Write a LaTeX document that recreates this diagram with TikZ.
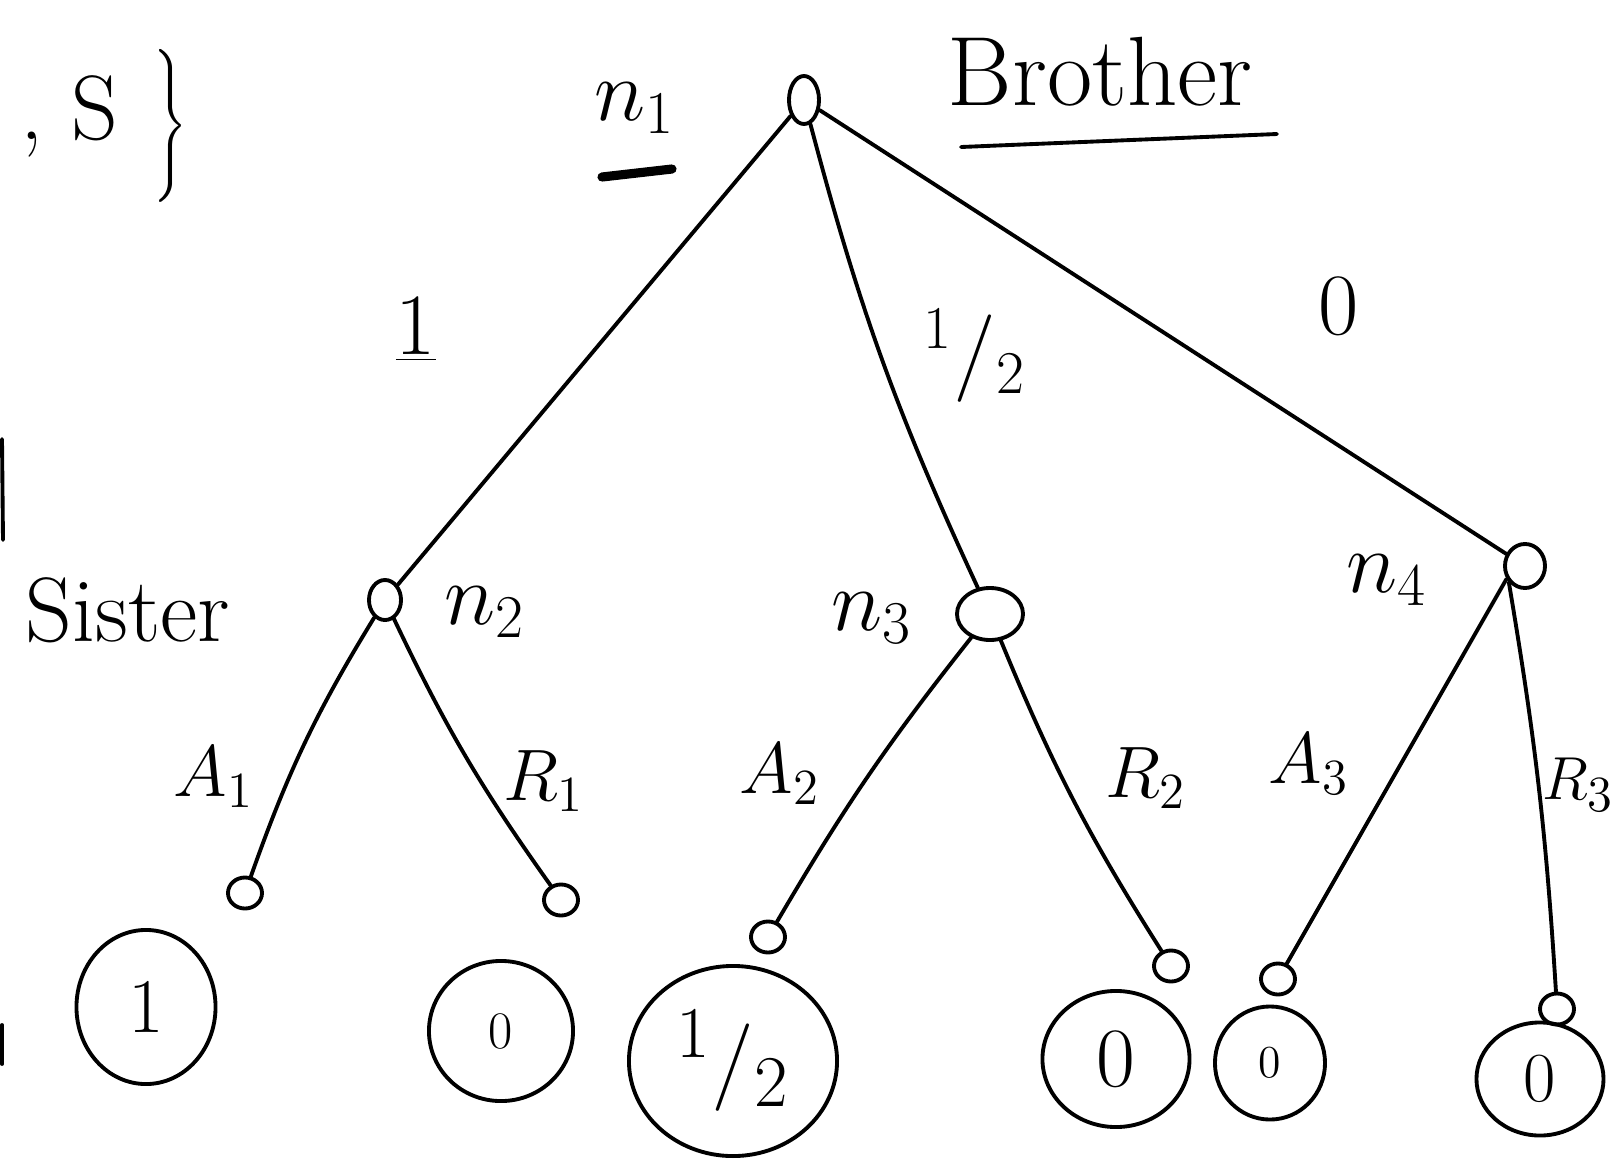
\documentclass[tikz,border=0pt]{standalone}
\usepackage{graphicx}
\usetikzlibrary{shapes.geometric}

\begin{document}
\begin{tikzpicture}[x=0.01cm, y=-0.01cm, line width=1.1pt, line cap=round,
    decision/.style={draw, ellipse, inner sep=0pt, line width=1.1pt},
    leaf/.style={draw, ellipse, inner sep=0pt, minimum width=0.34cm, minimum height=0.31cm, line width=1.1pt},
    payoff/.style={draw, ellipse, inner sep=0pt, line width=1.1pt},
    move/.style={inner sep=0pt, font=\fontsize{20}{22}\selectfont},
    nlabel/.style={inner sep=0pt, font=\fontsize{24}{26}\selectfont},
    share/.style={inner sep=0pt, font=\fontsize{25}{28}\selectfont}]

    \useasboundingbox (0,0) rectangle (1611,1160);

    % Set fragment at the top left
        \node [inner sep=0pt, anchor=base east, font=\fontsize{26}{28}\selectfont] (setS) at (120,139) {,\ S};
        \node [inner sep=0pt] (setbrace) at (170,126) {\scalebox{1.2}[1.45]{$\Bigg\}$}};
        \draw (2,439) -- (3,540);
        \draw (2,1025) -- (2,1064);

    % Brother moves first
        %% root
        \node [decision, minimum width=0.30cm, minimum height=0.48cm] (n1) at (804,100) {};
        \node [nlabel] (n1lab) at (635,108) {$n_1$};
        \coordinate (mark1) at (602,177);
        \coordinate (mark2) at (672,169);
        \draw [line width=2.6pt] (mark1) -- (mark2);
        \node [inner sep=0pt, font=\fontsize{28}{30}\selectfont] (brother) at (1100,72) {Brother};
        \coordinate (bro1) at (961,147);
        \coordinate (bro2) at (1277,134);
        \draw (bro1) -- (bro2);

        %% offers
        \node [decision, minimum width=0.32cm, minimum height=0.40cm] (n2) at (385,600) {};
        \node [decision, minimum width=0.66cm, minimum height=0.52cm] (n3) at (990,614) {};
        \node [decision, minimum width=0.40cm, minimum height=0.44cm] (n4) at (1525,566) {};
        \draw (n1) -- (n2);
        \draw (n1) to[bend right=5] (n3);
        \draw (n1) -- (n4);
        \node [share] (s1) at (416,330) {$\underline{1}$};
        \node [share] (s2) at (975,356) {$^{1}/_{2}$};
        \node [share] (s3) at (1339,306) {$0$};

    % Sister answers
        \node [inner sep=0pt, font=\fontsize{26}{28}\selectfont] (sister) at (128,610) {Sister};
        \node [nlabel] (n2lab) at (485,612) {$n_2$};
        \node [nlabel] (n3lab) at (872,618) {$n_3$};
        \node [nlabel] (n4lab) at (1387,580) {$n_4$};

        %% end nodes
        \node [leaf] (l1) at (245,893) {};
        \node [leaf] (l2) at (561,900) {};
        \node [leaf] (l3) at (768,937) {};
        \node [leaf] (l4) at (1171,966) {};
        \node [leaf] (l5) at (1278,979) {};
        \node [leaf] (l6) at (1557,1009) {};
        \draw (n2) to[bend right=6] (l1);
        \draw (n2) to[bend right=5] (l2);
        \draw (n3) to[bend right=4] (l3);
        \draw (n3) to[bend right=5] (l4);
        \draw (n4.215) -- (l5);
        \draw (n4.225) to[bend left=3] (l6);
        \node [move] (a1) at (214,777) {$A_1$};
        \node [move] (r1) at (544,781) {$R_1$};
        \node [move] (a2) at (780,774) {$A_2$};
        \node [move] (r2) at (1146,778) {$R_2$};
        \node [move] (a3) at (1309,764) {$A_3$};
        \node [move, font=\fontsize{19}{21}\selectfont] (r3) at (1578,785) {$R_3$};

        %% payoffs of the sister
        \node [payoff, minimum width=1.39cm, minimum height=1.54cm, font=\fontsize{22}{24}\selectfont] (p1) at (146,1007) {1};
        \node [payoff, minimum width=1.44cm, minimum height=1.40cm, font=\fontsize{15}{17}\selectfont] (p2) at (501,1031) {0};
        \node [payoff, minimum width=2.08cm, minimum height=1.90cm, font=\fontsize{28}{30}\selectfont] (p3) at (733,1061) {$^{1}/_{2}$};
        \node [payoff, minimum width=1.47cm, minimum height=1.36cm, font=\fontsize{24}{26}\selectfont] (p4) at (1116,1059) {0};
        \node [payoff, minimum width=1.10cm, minimum height=1.13cm, font=\fontsize{13}{15}\selectfont] (p5) at (1270,1063) {0};
        \node [payoff, minimum width=1.27cm, minimum height=1.13cm, font=\fontsize{20}{22}\selectfont] (p6) at (1540,1079) {0};

\end{tikzpicture}
\end{document}
